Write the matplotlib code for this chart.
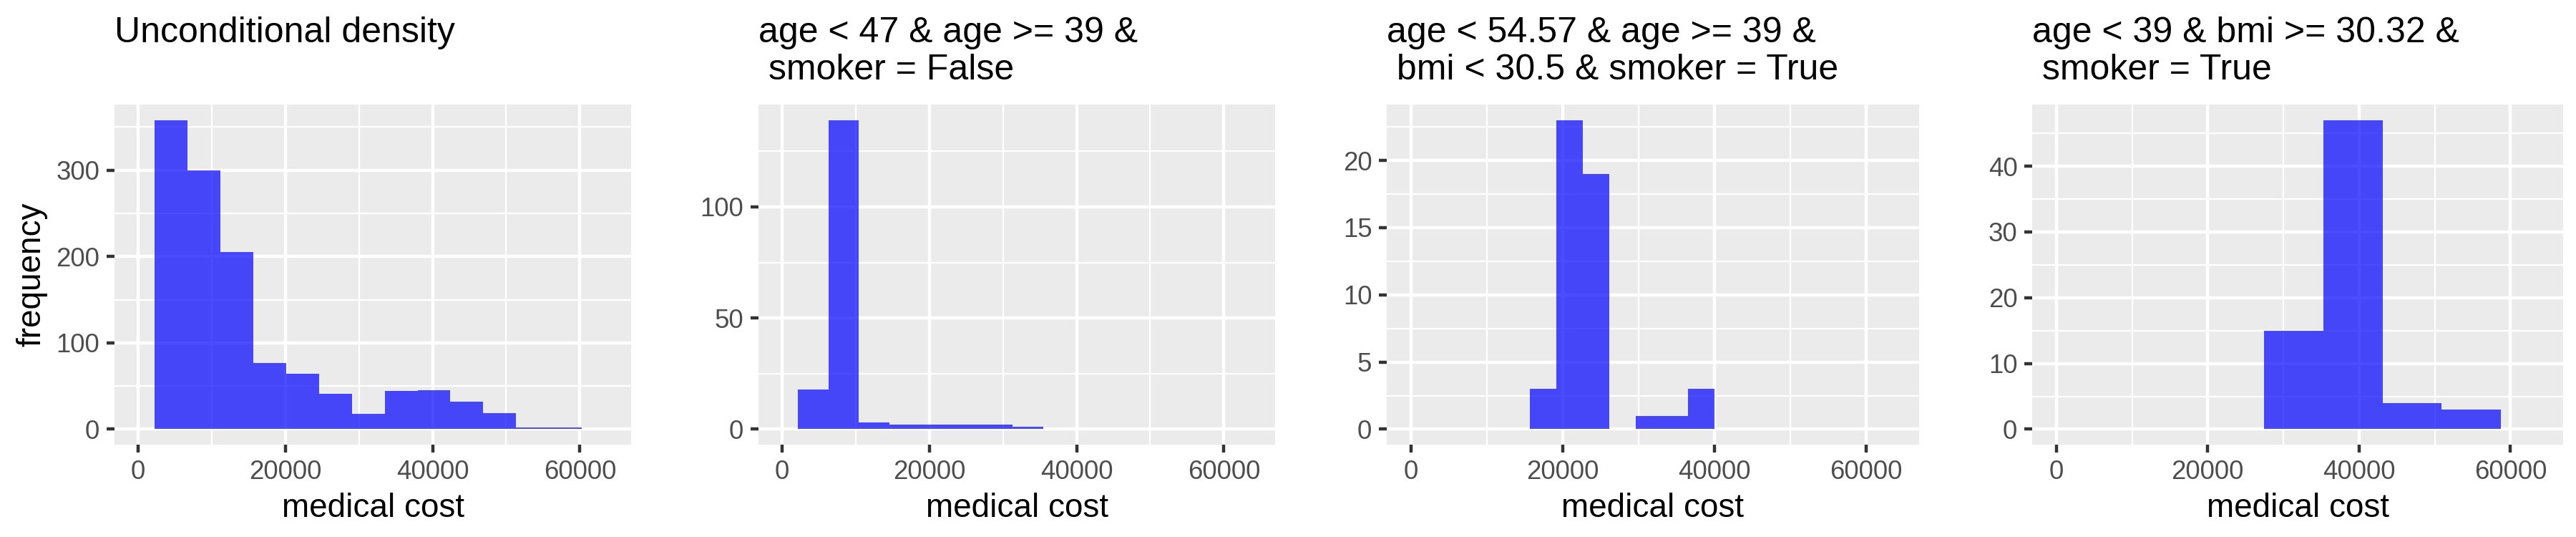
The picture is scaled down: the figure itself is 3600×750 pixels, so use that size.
import matplotlib
matplotlib.use("Agg")
import matplotlib.pyplot as plt
from matplotlib.ticker import MultipleLocator

plt.rcParams["font.family"] = ["Liberation Sans", "DejaVu Sans"]

# histogram bins (bin edges in $, counts per bin)
edges_all = [2238, 6703, 11168, 15633, 20098, 24563, 29028, 33493, 37958,
             42423, 46888, 51353, 55818, 60283]
counts_all = [358, 300, 205, 77, 64, 41, 18, 44, 45, 32, 19, 2, 2]

edges_mid = [2127, 6291, 10455, 14619, 18783, 22947, 27111, 31275, 35439]
counts_mid = [18, 139, 3, 2, 2, 2, 2, 1]

edges_old_smoker = [15695, 19167, 22639, 26111, 29583, 33055, 36527, 39999]
counts_old_smoker = [3, 23, 19, 0, 1, 1, 3]

edges_young_smoker = [27466, 35286, 43106, 50926, 58746]
counts_young_smoker = [15, 47, 4, 3]

titles = [
    "Unconditional density",
    "age < 47 & age >= 39 &\n smoker = False",
    "age < 54.57 & age >= 39 &\n bmi < 30.5 & smoker = True",
    "age < 39 & bmi >= 30.32 &\n smoker = True",
]
y_steps = [100, 50, 5, 10]
cost_max = 63770

panels = [
    (edges_all, counts_all),
    (edges_mid, counts_mid),
    (edges_old_smoker, counts_old_smoker),
    (edges_young_smoker, counts_young_smoker),
]

fig = plt.figure(figsize=(12, 2.5), dpi=300)

# axes boxes in figure fractions (left, bottom, width, height)
boxes = [
    (160 / 3600, 0.172, 722 / 3600, 0.633),
    (1060 / 3600, 0.172, 722 / 3600, 0.633),
    (1938 / 3600, 0.172, 744 / 3600, 0.633),
    (2840 / 3600, 0.172, 742 / 3600, 0.633),
]

for i, ((edges, counts), title) in enumerate(zip(panels, titles)):
    ax = fig.add_axes(boxes[i])
    ax.set_facecolor("#EBEBEB")
    ax.set_axisbelow(True)

    ax.hist(edges[:-1], bins=edges, weights=counts,
            color="blue", alpha=0.7, linewidth=0)

    pad = cost_max * 0.05
    ax.set_xlim(-pad, cost_max + pad)
    top = max(counts)
    ax.set_ylim(-0.05 * top, top * 1.05)

    ax.xaxis.set_major_locator(MultipleLocator(20000))
    ax.xaxis.set_minor_locator(MultipleLocator(10000))
    ax.yaxis.set_major_locator(MultipleLocator(y_steps[i]))
    ax.yaxis.set_minor_locator(MultipleLocator(y_steps[i] / 2))

    ax.grid(which="major", color="white", linewidth=1.07)
    ax.grid(which="minor", color="white", linewidth=0.53)

    for s in ax.spines.values():
        s.set_visible(False)

    ax.tick_params(which="major", length=2.75, width=1.07, color="#333333",
                   labelcolor="#4D4D4D", labelsize=8.8, pad=2.2)
    ax.tick_params(which="minor", length=0)

    ax.set_xlabel("medical cost", fontsize=11, labelpad=2.75)
    if i == 0:
        ax.set_ylabel("frequency", fontsize=11, labelpad=3)

    fig.text(boxes[i][0], 0.9687, title, fontsize=12, ha="left", va="top",
             linespacing=1.15)

fig.savefig("out.png", dpi=300, facecolor="white")
